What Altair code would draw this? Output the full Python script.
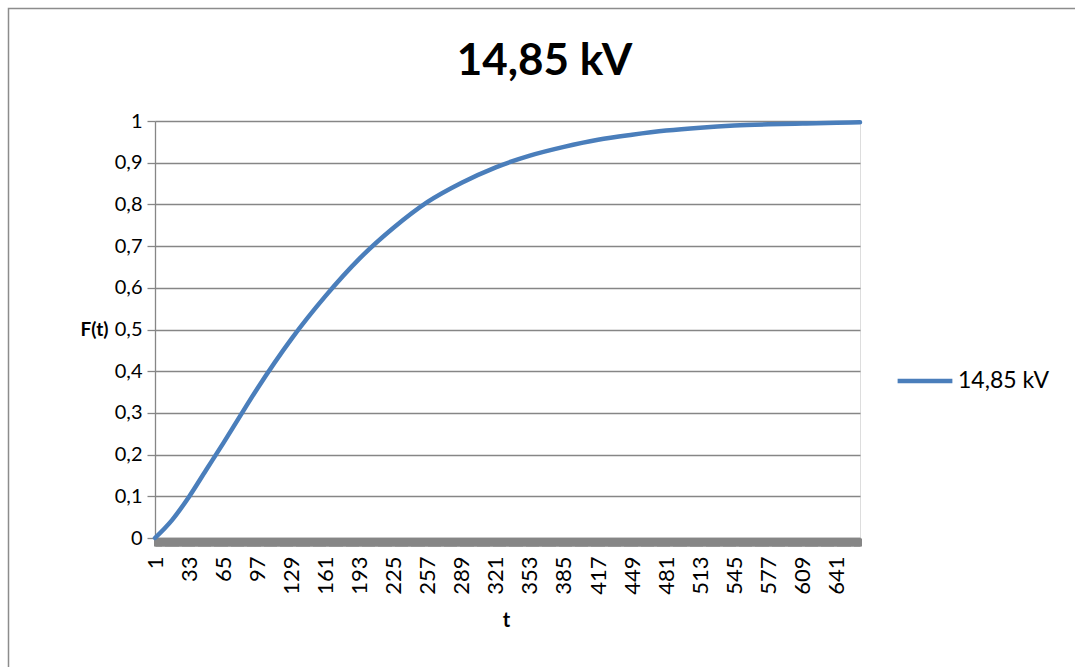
import altair as alt
import pandas as pd

# Failure probability F(t) for the 14,85 kV test series
t_values = [1, 17, 33, 49, 65, 81, 97, 129, 161, 193, 225, 257, 289, 321,
            353, 385, 417, 449, 481, 513, 545, 577, 609, 641, 663]
f_values = [0.000, 0.043, 0.099, 0.163, 0.227, 0.293, 0.358, 0.477, 0.580,
            0.670, 0.744, 0.806, 0.852, 0.889, 0.917, 0.938, 0.955, 0.967,
            0.977, 0.984, 0.989, 0.992, 0.994, 0.996, 0.997]
series_name = "14,85 kV"
n_categories = 663
y_ticks = [0, 0.1, 0.2, 0.3, 0.4, 0.5, 0.6, 0.7, 0.8, 0.9, 1]

df = pd.DataFrame({"t": t_values, "F": f_values, "series": series_name})

FONT = "Lato"
GRID = "#868686"
BLUE = "#4A7EBB"

x_axis = alt.Axis(
    values=list(range(1, n_categories + 1)),
    labelExpr="(datum.value - 1) % 32 === 0 ? datum.label : ''",
    labelAngle=270,
    labelOverlap=False,
    labelFlush=False,
    labelFont=FONT,
    labelFontSize=22,
    labelColor="#000000",
    labelPadding=10,
    tickSize=8,
    tickColor=GRID,
    tickWidth=3,
    domainColor=GRID,
    domainWidth=1.5,
    grid=False,
    title="t",
    titleFont=FONT,
    titleFontSize=20,
    titleFontWeight="bold",
    titleColor="#000000",
    titleX=351,
    titleY=82,
    titleAlign="center",
    titleBaseline="middle",
)

y_axis = alt.Axis(
    values=y_ticks,
    labelExpr="replace(format(datum.value, '.1~f'), '.', ',')",
    labelFont=FONT,
    labelFontSize=20,
    labelColor="#000000",
    labelPadding=5,
    tickSize=8,
    tickColor=GRID,
    tickWidth=1.3,
    domainColor=GRID,
    domainWidth=1.3,
    grid=True,
    gridColor=GRID,
    gridWidth=1.3,
    title="F(t)",
    titleAngle=0,
    titleFont=FONT,
    titleFontSize=19,
    titleFontWeight="bold",
    titleColor="#000000",
    titleX=-61,
    titleY=208,
    titleAlign="center",
    titleBaseline="middle",
)

line = alt.Chart(df).mark_line(strokeWidth=4.5, interpolate="monotone", strokeCap="round").encode(
    x=alt.X("t:Q", scale=alt.Scale(domain=[1, n_categories], nice=False, zero=False), axis=x_axis),
    y=alt.Y("F:Q", scale=alt.Scale(domain=[0, 1], nice=False), axis=y_axis),
    color=alt.Color(
        "series:N",
        scale=alt.Scale(domain=[series_name], range=[BLUE]),
        legend=alt.Legend(
            title=None,
            orient="none",
            legendX=740,
            legendY=230,
            symbolType="stroke",
            symbolSize=3000,
            symbolStrokeWidth=4.5,
            labelFont=FONT,
            labelFontSize=23,
            labelColor="#000000",
            labelOffset=3,
        ),
    ),
)

# Outer chart-area frame
frame = alt.Chart(alt.Data(values=[{}])).mark_rect(
    fill=None, stroke="#8c8c8c", strokeWidth=1.5
).encode(
    x=alt.value(-146.5), x2=alt.value(930), y=alt.value(-112.5), y2=alt.value(560)
)

chart = alt.layer(frame, line).properties(
    width=705,
    height=417,
    autosize=alt.AutoSizeParams(type="none"),
    padding={"left": 155, "top": 121, "right": 215, "bottom": 129},
    title=alt.TitleParams(
        series_name,
        font=FONT,
        fontSize=44,
        fontWeight="bold",
        color="#000000",
        anchor="middle",
        frame="group",
        dx=37,
        offset=-111,
        baseline="alphabetic",
    ),
).configure_view(stroke=None).configure(background="white")

chart.save("out.html", embed_options={"renderer": "svg", "actions": False})
